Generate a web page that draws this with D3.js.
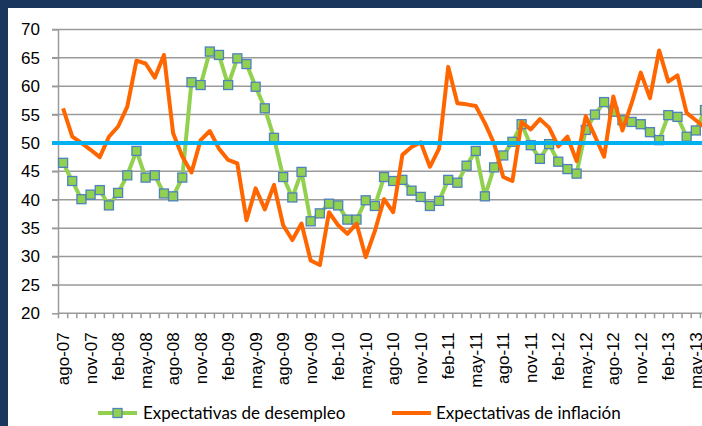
<!DOCTYPE html>
<html>
<head>
<meta charset="utf-8">
<script src="https://cdn.jsdelivr.net/npm/d3@7"></script>
<style>
	body { margin: 0; background: #fff; }
	svg { display: block; font-family: Lato, "Open Sans", sans-serif; }
	.grid line { stroke: #9a9a9a; stroke-width: 1.5; }
	.axe path, .axe line { stroke: #9a9a9a; stroke-width: 1.5; }
	.axe text { fill: #000; font-size: 17px; }
</style>
</head>
<body>
<svg width="702" height="426"></svg>
<script>
	// meses (categorias del eje x)
	var meses = [
		"ago-07","sep-07","oct-07","nov-07","dic-07",
		"ene-08","feb-08","mar-08","abr-08","may-08","jun-08","jul-08","ago-08","sep-08","oct-08","nov-08","dic-08",
		"ene-09","feb-09","mar-09","abr-09","may-09","jun-09","jul-09","ago-09","sep-09","oct-09","nov-09","dic-09",
		"ene-10","feb-10","mar-10","abr-10","may-10","jun-10","jul-10","ago-10","sep-10","oct-10","nov-10","dic-10",
		"ene-11","feb-11","mar-11","abr-11","may-11","jun-11","jul-11","ago-11","sep-11","oct-11","nov-11","dic-11",
		"ene-12","feb-12","mar-12","abr-12","may-12","jun-12","jul-12","ago-12","sep-12","oct-12","nov-12","dic-12",
		"ene-13","feb-13","mar-13","abr-13","may-13","jun-13"
	];

	var desempleo = [
		46.5, 43.3, 40.1, 40.9, 41.7,
		39.0, 41.2, 44.3, 48.6, 43.9, 44.3, 41.1, 40.6, 43.9, 60.7, 60.2, 66.1,
		65.5, 60.2, 64.9, 63.9, 59.9, 56.1, 50.9, 44.0, 40.4, 44.9, 36.2, 37.6,
		39.3, 39.0, 36.5, 36.5, 39.9, 38.9, 44.0, 43.3, 43.5, 41.6, 40.5, 38.9,
		39.8, 43.5, 43.0, 46.0, 48.6, 40.6, 45.7, 47.8, 50.2, 53.3, 49.6, 47.2,
		49.8, 46.7, 45.4, 44.6, 52.3, 55.0, 57.2, 55.5, 54.0, 53.7, 53.3, 51.9,
		50.5, 54.9, 54.6, 51.1, 52.2, 55.8
	];

	var inflacion = [
		56.1, 51.1, 50.0, 48.8, 47.5,
		51.1, 52.9, 56.4, 64.5, 64.0, 61.5, 65.5, 51.7, 47.6, 44.8, 50.5, 52.1,
		49.0, 47.0, 46.4, 36.4, 42.0, 38.3, 42.6, 35.5, 32.9, 35.8, 29.3, 28.5,
		37.8, 35.5, 34.0, 35.8, 29.9, 34.5, 40.1, 37.8, 47.9, 49.3, 50.1, 45.8,
		49.0, 63.4, 57.0, 56.8, 56.5, 53.5, 49.9, 44.0, 43.3, 53.7, 52.4, 54.2,
		52.7, 49.4, 51.1, 46.8, 54.7, 51.2, 47.6, 58.2, 52.2, 57.0, 62.4, 57.9,
		66.3, 60.8, 61.9, 55.3, 54.0, 52.7
	];

	var etiquetas = ["ago-07","nov-07","feb-08","may-08","ago-08","nov-08","feb-09","may-09",
		"ago-09","nov-09","feb-10","may-10","ago-10","nov-10","feb-11","may-11",
		"ago-11","nov-11","feb-12","may-12","ago-12","nov-12","feb-13","may-13"];

	var yTicks = [20, 25, 30, 35, 40, 45, 50, 55, 60, 65, 70];
	var umbral = 50;

	var nombres = ["Expectativas de desempleo", "Expectativas de inflación"];

	var svg = d3.select("svg");

	// marco azul oscuro
	svg.append("rect").attr("width", 702).attr("height", 426).attr("fill", "#1a365d");
	svg.append("rect").attr("x", 8).attr("y", 8).attr("width", 702).attr("height", 426).attr("fill", "#fff");

	var x = d3.scaleBand()
		.domain(meses)
		.range([58.5, 58.5 + 9.17 * meses.length]);

	var y = d3.scaleLinear()
		.domain([20, 70])
		.range([313.3, 29.4]);

	var cx = function(d, i) { return x(meses[i]) + x.bandwidth() / 2; };

	// lineas de la grilla
	svg.append("g").attr("class", "grid")
		.selectAll("line")
		.data(yTicks.slice(1))
		.enter().append("line")
		.attr("x1", 52).attr("x2", x.range()[1])
		.attr("y1", function(d) { return y(d); })
		.attr("y2", function(d) { return y(d); });

	// eje y
	var yAxis = d3.axisLeft(y).tickValues(yTicks).tickSize(6).tickSizeOuter(0).tickPadding(12);
	svg.append("g").attr("class", "axe")
		.attr("transform", "translate(58,0)")
		.call(yAxis);

	// eje x : ticks entre categorias
	var gx = svg.append("g").attr("class", "axe");
	gx.append("line")
		.attr("x1", 58).attr("x2", x.range()[1])
		.attr("y1", y(20)).attr("y2", y(20));
	gx.selectAll("line.tk")
		.data(meses.concat([null]))
		.enter().append("line")
		.attr("class", "tk")
		.attr("x1", function(d, i) { return x.range()[0] + i * x.step(); })
		.attr("x2", function(d, i) { return x.range()[0] + i * x.step(); })
		.attr("y1", y(20)).attr("y2", y(20) + 5);

	var xAxis = d3.axisBottom(x).tickValues(etiquetas).tickSize(0);
	var gxl = svg.append("g").attr("class", "axe")
		.attr("transform", "translate(0," + y(20) + ")")
		.call(xAxis);
	gxl.select(".domain").remove();
	gxl.selectAll("text")
		.attr("transform", "rotate(-90)")
		.attr("text-anchor", "end")
		.attr("x", -19)
		.attr("y", 0)
		.attr("dy", "0.36em");

	// serie desempleo
	var linea = function(vals) {
		return d3.line()
			.x(function(d, i) { return cx(d, i); })
			.y(function(d) { return y(d); })(vals);
	};

	svg.append("path")
		.attr("d", linea(desempleo))
		.attr("fill", "none")
		.attr("stroke", "#92d050")
		.attr("stroke-width", 4)
		.attr("stroke-linejoin", "round");

	svg.append("g").selectAll("rect")
		.data(desempleo)
		.enter().append("rect")
		.attr("x", function(d, i) { return cx(d, i) - 4.5; })
		.attr("y", function(d) { return y(d) - 4.5; })
		.attr("width", 9).attr("height", 9)
		.attr("fill", "#92d050")
		.attr("stroke", "#4f81bd")
		.attr("stroke-width", 1.3);

	// serie inflacion
	svg.append("path")
		.attr("d", linea(inflacion))
		.attr("fill", "none")
		.attr("stroke", "#ff6600")
		.attr("stroke-width", 4)
		.attr("stroke-linejoin", "round");

	// linea en 50
	svg.append("line")
		.attr("x1", 52).attr("x2", x.range()[1])
		.attr("y1", y(umbral)).attr("y2", y(umbral))
		.attr("stroke", "#00b0f0")
		.attr("stroke-width", 4);

	// leyenda
	var ley = svg.append("g");
	ley.append("line").attr("x1", 98).attr("x2", 137).attr("y1", 413).attr("y2", 413)
		.attr("stroke", "#92d050").attr("stroke-width", 4);
	ley.append("rect").attr("x", 113).attr("y", 408.5).attr("width", 9).attr("height", 9)
		.attr("fill", "#92d050").attr("stroke", "#4f81bd").attr("stroke-width", 1.3);
	ley.append("text").attr("x", 143).attr("y", 419).attr("font-size", 17).text(nombres[0]);
	ley.append("line").attr("x1", 392).attr("x2", 431).attr("y1", 413).attr("y2", 413)
		.attr("stroke", "#ff6600").attr("stroke-width", 4);
	ley.append("text").attr("x", 436).attr("y", 419).attr("font-size", 17).text(nombres[1]);
</script>
</body>
</html>
